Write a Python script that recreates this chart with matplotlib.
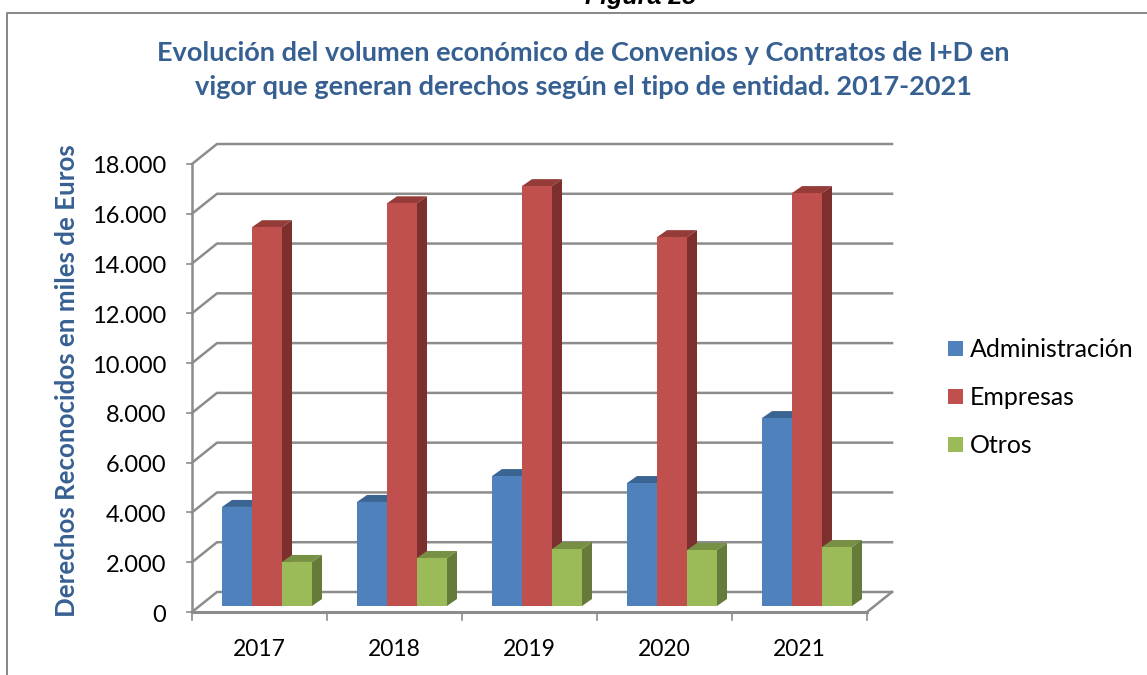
import matplotlib
matplotlib.use('Agg')
import matplotlib.pyplot as plt
from matplotlib.patches import Polygon, Rectangle

years = ['2017', '2018', '2019', '2020', '2021']
administracion = [3980, 4180, 5220, 4940, 7550]
empresas = [15220, 16180, 16870, 14820, 16590]
otros = [1770, 1930, 2290, 2250, 2370]
yticks = [0, 2000, 4000, 6000, 8000, 10000, 12000, 14000, 16000, 18000]
ytick_labels = ['0', '2.000', '4.000', '6.000', '8.000', '10.000', '12.000', '14.000', '16.000', '18.000']

plt.rcParams['font.family'] = ['Lato', 'DejaVu Sans']

W, H = 1147, 675
fig = plt.figure(figsize=(W / 100, H / 100), dpi=100)

# axes box = front plane of the fake 3d chart
left, right, top, bottom = 192, 867, 164, 612
ax = fig.add_axes([left / W, 1 - bottom / H, (right - left) / W, (bottom - top) / H])
ax.set_xlim(0, 5)
ax.set_ylim(0, 18000)
ax.axis('off')

px_x = 5 / (right - left)
px_y = 18000 / (bottom - top)
wall_dx = 25 * px_x
wall_dy = 20 * px_y
bar_dx = 10 * px_x
bar_dy = 7 * px_y
floor = 6 * px_y
bar_w = 30 * px_x
start = 30 * px_x

grid = '#8c8c8c'

# walls and gridlines
for v in yticks:
    ax.plot([0, wall_dx, 5 + wall_dx], [v, v + wall_dy, v + wall_dy], color=grid, lw=1.8, clip_on=False, zorder=1)
    ax.plot([-5 * px_x, 0], [v, v], color=grid, lw=1.2, clip_on=False, zorder=1)
ax.plot([0, 0], [0, 18000], color=grid, lw=1.8, clip_on=False, zorder=1)
ax.plot([0, 5], [0, 0], color=grid, lw=2.2, clip_on=False, zorder=1)
ax.plot([5, 5 + wall_dx], [0, wall_dy], color=grid, lw=1.8, clip_on=False, zorder=1)
for i in range(6):
    ax.plot([i, i], [0, -8 * px_y], color=grid, lw=1.2, clip_on=False, zorder=1)

series = [
    ('Administración', administracion, '#4f81bd', '#3a6491', '#3a6491'),
    ('Empresas', empresas, '#c0504d', '#953c39', '#7d2f2d'),
    ('Otros', otros, '#9bbb59', '#789043', '#667b3a'),
]

# back to front so the red side is covered by the green bar
z = {0: 3, 1: 3, 2: 4}
for s, (name, vals, col, top_col, side_col) in enumerate(series):
    for i, v in enumerate(vals):
        x0 = i + start + s * bar_w
        x1 = x0 + bar_w
        y1 = v + floor
        ax.add_patch(Polygon([(x0, y1), (x1, y1), (x1 + bar_dx, y1 + bar_dy), (x0 + bar_dx, y1 + bar_dy)],
                             fc=top_col, ec='none', clip_on=False, zorder=z[s]))
        ax.add_patch(Polygon([(x1, floor), (x1 + bar_dx, floor + bar_dy), (x1 + bar_dx, y1 + bar_dy), (x1, y1)],
                             fc=side_col, ec='none', clip_on=False, zorder=z[s]))
    xs = [i + start + s * bar_w for i in range(len(vals))]
    ax.bar(xs, vals, width=bar_w, bottom=floor, align='edge', color=col, zorder=z[s] + 0.5, clip_on=False)

for i, y in enumerate(years):
    ax.text(i + 0.5, -37 * px_y, y, ha='center', va='center', fontsize=16.5, color='black')
for v, lab in zip(yticks, ytick_labels):
    ax.text(-26 * px_x, v - 3 * px_y, lab, ha='right', va='center', fontsize=17, color='black')

# everything outside the plot goes in pixel coordinates of the page
page = fig.add_axes([0, 0, 1, 1], zorder=-1)
page.set_xlim(0, W)
page.set_ylim(H, 0)
page.axis('off')
page.plot([7, 7, W], [H, 13, 13], color='#868686', lw=1.4)
page.text(641, 4, 'Figura 25', ha='center', va='baseline', fontsize=18, style='italic', weight='bold',
          color='black', family='Liberation Sans')
page.text(583.5, 53, 'Evolución del volumen económico de Convenios y Contratos de I+D en',
          ha='center', va='center', fontsize=19.5, weight='bold', color='#376092')
page.text(583.5, 87, 'vigor que generan derechos según el tipo de entidad. 2017-2021',
          ha='center', va='center', fontsize=19.5, weight='bold', color='#376092')
page.text(67, 381, 'Derechos Reconocidos en miles de Euros', rotation=90, ha='center', va='center',
          fontsize=18.6, weight='bold', color='#376092')

legend_y = [348.5, 396.5, 444.5]
for (name, vals, col, _, _), y in zip(series, legend_y):
    page.add_patch(Rectangle((948, y - 7.5), 15, 15, fc=col, ec='none'))
    page.text(970, y + 1, name, ha='left', va='center', fontsize=17.9, color='black')

fig.savefig('out.png', dpi=100)
